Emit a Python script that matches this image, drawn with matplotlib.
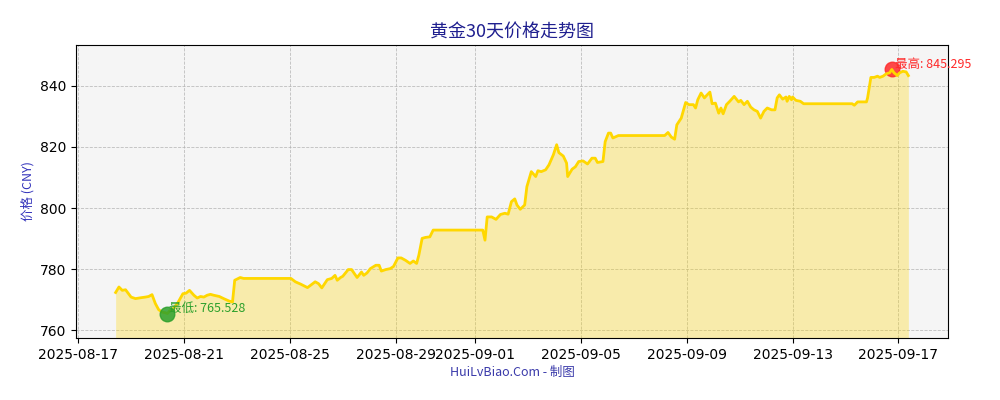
import matplotlib
matplotlib.use("Agg")
import matplotlib.pyplot as plt
import matplotlib.dates as mdates
import pandas as pd

plt.rcParams['font.family'] = ['DejaVu Sans', 'Noto Sans CJK SC']

times = [
    "2025-08-18 10:00", "2025-08-18 13:00", "2025-08-18 16:00", "2025-08-18 19:00",
    "2025-08-19 00:00", "2025-08-19 04:00", "2025-08-19 09:00", "2025-08-19 13:00",
    "2025-08-19 16:00", "2025-08-19 19:00", "2025-08-19 22:00", "2025-08-20 01:00",
    "2025-08-20 04:00", "2025-08-20 07:00", "2025-08-20 09:00", "2025-08-20 11:00",
    "2025-08-20 13:00", "2025-08-20 18:00", "2025-08-20 23:00", "2025-08-21 02:00",
    "2025-08-21 05:00", "2025-08-21 09:00", "2025-08-21 12:00", "2025-08-21 15:00",
    "2025-08-21 18:00", "2025-08-21 21:00", "2025-08-22 00:00", "2025-08-22 03:00",
    "2025-08-22 08:00", "2025-08-22 12:00", "2025-08-22 17:00", "2025-08-22 20:00",
    "2025-08-22 22:00", "2025-08-23 03:00", "2025-08-23 06:00", "2025-08-25 01:00",
    "2025-08-25 05:00", "2025-08-25 10:00", "2025-08-25 16:00", "2025-08-25 19:00",
    "2025-08-25 23:00", "2025-08-26 02:00", "2025-08-26 05:00", "2025-08-26 10:00",
    "2025-08-26 14:00", "2025-08-26 17:00", "2025-08-26 19:00", "2025-08-26 22:00",
    "2025-08-27 00:00", "2025-08-27 02:00", "2025-08-27 05:00", "2025-08-27 08:00",
    "2025-08-27 13:00", "2025-08-27 17:00", "2025-08-27 19:00", "2025-08-27 22:00",
    "2025-08-28 01:00", "2025-08-28 06:00", "2025-08-28 09:00", "2025-08-28 11:00",
    "2025-08-28 15:00", "2025-08-28 19:00", "2025-08-28 22:00", "2025-08-29 02:00",
    "2025-08-29 05:00", "2025-08-29 09:00", "2025-08-29 13:00", "2025-08-29 16:00",
    "2025-08-29 19:00", "2025-08-29 21:00", "2025-08-30 00:00", "2025-08-30 03:00",
    "2025-08-30 07:00", "2025-08-30 10:00", "2025-09-01 07:00", "2025-09-01 09:00",
    "2025-09-01 11:00", "2025-09-01 15:00", "2025-09-01 19:00", "2025-09-01 23:00",
    "2025-09-02 03:00", "2025-09-02 06:00", "2025-09-02 09:00", "2025-09-02 12:00",
    "2025-09-02 14:00", "2025-09-02 17:00", "2025-09-02 21:00", "2025-09-02 23:00",
    "2025-09-03 03:00", "2025-09-03 07:00", "2025-09-03 09:00", "2025-09-03 12:00",
    "2025-09-03 16:00", "2025-09-03 19:00", "2025-09-03 23:00", "2025-09-04 02:00",
    "2025-09-04 04:00", "2025-09-04 08:00", "2025-09-04 11:00", "2025-09-04 12:00",
    "2025-09-04 16:00", "2025-09-04 19:00", "2025-09-04 22:00", "2025-09-05 02:00",
    "2025-09-05 06:00", "2025-09-05 10:00", "2025-09-05 13:00", "2025-09-05 15:00",
    "2025-09-05 20:00", "2025-09-05 22:00", "2025-09-06 01:00", "2025-09-06 03:00",
    "2025-09-06 05:00", "2025-09-06 10:00", "2025-09-08 04:00", "2025-09-08 07:00",
    "2025-09-08 10:00", "2025-09-08 13:00", "2025-09-08 15:00", "2025-09-08 19:00",
    "2025-09-08 23:00", "2025-09-09 02:00", "2025-09-09 06:00", "2025-09-09 08:00",
    "2025-09-09 10:00", "2025-09-09 13:00", "2025-09-09 16:00", "2025-09-09 18:00",
    "2025-09-09 21:00", "2025-09-09 23:00", "2025-09-10 02:00", "2025-09-10 05:00",
    "2025-09-10 07:00", "2025-09-10 09:00", "2025-09-10 12:00", "2025-09-10 15:00",
    "2025-09-10 19:00", "2025-09-10 23:00", "2025-09-11 01:00", "2025-09-11 04:00",
    "2025-09-11 07:00", "2025-09-11 10:00", "2025-09-11 13:00", "2025-09-11 16:00",
    "2025-09-11 19:00", "2025-09-11 22:00", "2025-09-12 01:00", "2025-09-12 05:00",
    "2025-09-12 08:00", "2025-09-12 10:00", "2025-09-12 12:00", "2025-09-12 15:00",
    "2025-09-12 18:00", "2025-09-12 19:00", "2025-09-12 21:00", "2025-09-12 23:00",
    "2025-09-13 00:00", "2025-09-13 03:00", "2025-09-13 07:00", "2025-09-13 10:00",
    "2025-09-15 06:00", "2025-09-15 08:00", "2025-09-15 11:00", "2025-09-15 14:00",
    "2025-09-15 19:00", "2025-09-15 20:00", "2025-09-15 23:00", "2025-09-16 02:00",
    "2025-09-16 05:00", "2025-09-16 07:00", "2025-09-16 10:00", "2025-09-16 13:00",
    "2025-09-16 16:00", "2025-09-16 18:00", "2025-09-16 20:00", "2025-09-16 23:00",
    "2025-09-17 01:00", "2025-09-17 04:00", "2025-09-17 07:00", "2025-09-17 09:00",
]

prices = [
    772.4, 774.2, 773.1, 773.3,
    770.9, 770.4, 770.7, 770.9,
    771.1, 771.7, 768.8, 766.8,
    766.0, 765.8, 765.528, 766.4,
    766.6, 768.8, 772.0, 772.2,
    773.1, 771.5, 770.6, 771.1,
    770.9, 771.5, 771.8, 771.5,
    771.1, 770.4, 769.6, 769.3,
    776.4, 777.3, 777.0, 777.0,
    775.9, 775.1, 774.0, 774.8,
    775.9, 775.3, 773.9, 776.6,
    777.0, 778.0, 776.4, 777.3,
    777.7, 778.6, 779.9, 779.9,
    777.3, 779.1, 778.0, 778.8,
    780.2, 781.3, 781.3, 779.4,
    779.9, 780.2, 780.9, 783.7,
    783.7, 782.9, 781.9, 782.7,
    781.9, 784.6, 790.1, 790.4,
    790.6, 792.8, 792.8, 789.5,
    797.1, 797.1, 796.3, 797.9,
    798.3, 798.0, 802.1, 803.0,
    801.0, 799.6, 801.0, 807.0,
    811.9, 810.3, 812.2, 811.9,
    812.5, 814.1, 817.4, 820.7,
    818.1, 817.0, 814.7, 810.3,
    812.7, 813.5, 815.2, 815.4,
    814.4, 816.3, 816.3, 814.9,
    815.2, 821.7, 824.5, 824.5,
    822.9, 823.7, 823.7, 824.7,
    823.2, 822.5, 827.2, 829.4,
    834.5, 833.8, 833.8, 832.7,
    835.4, 837.6, 836.0, 836.8,
    837.9, 834.1, 834.3, 831.0,
    832.7, 830.8, 833.8, 834.9,
    836.5, 834.7, 835.2, 833.8,
    834.9, 833.0, 832.1, 831.6,
    829.4, 831.6, 832.7, 832.1,
    832.1, 836.0, 837.0, 835.6,
    836.3, 834.9, 836.5, 835.4,
    836.3, 835.2, 834.9, 834.1,
    834.1, 833.6, 834.7, 834.7,
    834.7, 836.0, 842.7, 842.7,
    843.1, 842.7, 843.1, 843.9,
    844.2, 845.295, 844.2, 843.3,
    844.2, 844.7, 844.5, 843.3,
]

title_text = "黄金30天价格走势图"
ylabel_text = "价格 (CNY)"
footer_text = "HuiLvBiao.Com - 制图"
cjk = ['Noto Sans CJK SC', 'DejaVu Sans']

x = pd.to_datetime(times)
y = pd.Series(prices)

fig = plt.figure(figsize=(10, 4), dpi=100)
ax = fig.add_axes([0.076, 0.155, 0.872, 0.7325])
ax.set_facecolor('#f5f5f5')

ymin = y.min() - 8
ymax = y.max() + 8
ax.fill_between(x, y, ymin, color='#FFD700', alpha=0.3, linewidth=0, zorder=2)
ax.plot(x, y, color='#FFD700', linewidth=2, zorder=3)
ax.set_ylim(ymin, ymax)

imin = int(y.idxmin())
imax = int(y.idxmax())
ax.scatter([x[imin]], [y[imin]], s=110, color='#2ca02c', alpha=0.85, zorder=4)
ax.scatter([x[imax]], [y[imax]], s=110, color='#ff2a2a', alpha=0.85, zorder=2.5)
ax.annotate(f"最低: {y[imin]:.3f}", (x[imin], y[imin]), xytext=(1, 4),
            textcoords='offset points', color='#2ca02c', fontsize=9,
            family=cjk, va='center', ha='left', zorder=5)
ax.annotate(f"最高: {y[imax]:.3f}", (x[imax], y[imax]), xytext=(2.5, 3.5),
            textcoords='offset points', color='#ff2a2a', fontsize=9,
            family=cjk, va='center', ha='left', zorder=5, annotation_clip=False)

ax.grid(True, linestyle='--', color='#b0b0b0', linewidth=0.6, alpha=0.8)
ax.xaxis.set_major_formatter(mdates.DateFormatter('%Y-%m-%d'))
ax.tick_params(labelsize=10)

ax.set_ylabel(ylabel_text, color='#3333bb', fontsize=9, family=cjk)
fig.text(0.512, 0.918, title_text, ha='center', va='center', fontsize=13,
         color='#1f1f8f', family=cjk)
fig.text(0.512, 0.068, footer_text, ha='center', va='center', fontsize=9,
         color='#3a3aaa', family=cjk)

fig.savefig('out.png', dpi=100)
